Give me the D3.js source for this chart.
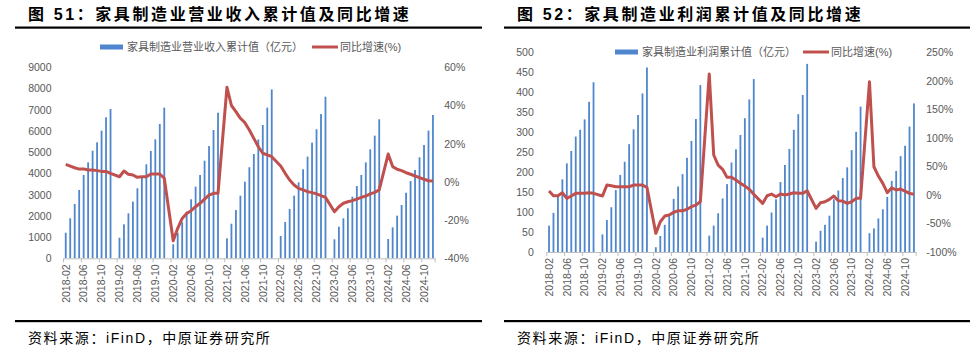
<!DOCTYPE html>
<html>
<head>
<meta charset="utf-8">
<script src="https://cdn.jsdelivr.net/npm/d3@7"></script>
<style>
  body { margin: 0; background: #fff; }
  svg { display: block; }
  text { font-family: "Liberation Sans", "Noto Sans CJK SC", sans-serif; }
</style>
</head>
<body>
<svg width="979" height="349"></svg>
<script>
// 月份类目：2018-02 至 2024-12，1月单独成类但无数据
const years = [2018, 2019, 2020, 2021, 2022, 2023, 2024];
const months = [];
years.forEach(y => {
  for (let m = 1; m <= 12; m++) {
    if (y === 2018 && m === 1) continue;
    months.push(`${y}-${String(m).padStart(2, "0")}`);
  }
});

// 营业收入累计值（亿元），1月为 null
const revenue = [
  1205, 1885, 2560, 3220, 3925, 4520, 5070, 5465, 6015, 6645, 7035,
  null, 970, 1600, 2120, 2670, 3300, 3850, 4430, 5055, 5605, 6330, 7100,
  null, 660, 1205, 1700, 2200, 2780, 3375, 3925, 4600, 5290, 6045, 6860,
  null, 940, 1630, 2275, 2950, 3610, 4290, 4915, 5600, 6280, 7100, 7960,
  null, 1050, 1710, 2325, 2950, 3580, 4195, 4790, 5450, 6080, 6800, 7615,
  null, 895, 1490, 1885, 2355, 2900, 3405, 3925, 4520, 5135, 5780, 6550,
  null, 910, 1460, 2010, 2510, 3090, 3640, 4160, 4760, 5340, 6015, 6755
];
// 营业收入同比增速（%）
const revenueYoY = [
  9.2, 8.3, 7.4, 6.7, 6.8, 6.2, 6.2, 5.9, 5.5, 5.5, 4.5,
  null, 2.7, 5.7, 4.0, 3.6, 2.4, 2.7, 2.7, 4.1, 4.1, 4.1, 1.9,
  null, -30.8, -24.3, -19.1, -16.5, -15.1, -13.0, -11.2, -9.0, -6.9, -6.0, -6.0,
  null, 49.5, 40.0, 36.8, 33.3, 31.0, 27.2, 22.8, 18.4, 15.0, 14.1, 13.2,
  null, 8.3, 4.5, 1.0, -1.6, -3.4, -4.2, -5.1, -5.6, -6.3, -7.2, -8.1,
  null, -15.6, -13.0, -11.2, -10.4, -9.8, -9.0, -8.1, -7.4, -6.3, -5.5, -4.2,
  null, 14.6, 8.0, 6.6, 5.9, 4.8, 4.0, 3.1, 2.2, 1.4, 0.6, 0.5
];

// 利润累计值（亿元）
const profit = [
  66, 98, 138, 182, 222, 253, 289, 306, 332, 376, 425,
  null, 44, 80, 112, 155, 193, 226, 270, 307, 343, 397, 462,
  null, 12, 40, 68, 90, 133, 164, 195, 236, 278, 333, 418,
  null, 41, 66, 97, 134, 170, 224, 257, 293, 335, 382, 433,
  null, 36, 66, 99, 132, 175, 218, 258, 306, 345, 393, 471,
  null, 26, 53, 68, 91, 132, 154, 185, 212, 255, 301, 364,
  null, 47, 59, 84, 107, 138, 178, 203, 240, 266, 314, 372
];
// 利润同比增速（%）
const profitYoY = [
  6.8, -1.4, -1.4, 3.9, -6.0, -1.9, 2.8, 2.8, 2.8, 3.9, 2.8,
  null, -1.9, 17.3, 16.1, 14.4, 14.4, 14.4, 14.4, 17.3, 17.3, 17.3, 13.3,
  null, -67.3, -47.0, -37.0, -35.2, -30.5, -27.7, -27.7, -25.2, -20.6, -17.7, -11.9,
  null, 211.9, 70.0, 52.4, 44.9, 30.8, 31.2, 26.1, 20.3, 15.6, 9.8, 1.2,
  null, -14.8, -1.4, 1.6, -3.1, 1.6, 0.0, 1.6, 3.9, 2.8, 2.8, 7.4,
  null, -23.5, -13.7, -11.9, -7.7, -1.9, -10.2, -10.8, -14.8, -11.9, -6.0, -6.0,
  null, 198.4, 49.4, 33.1, 20.3, 3.9, 12.6, 8.6, 10.3, 6.8, 2.8, 1.1
];

const revenueTicks = d3.range(0, 9001, 1000);
const revenuePctTicks = [-40, -20, 0, 20, 40, 60];
const profitTicks = d3.range(0, 501, 50);
const profitPctTicks = [-100, -50, 0, 50, 100, 150, 200, 250];

const BAR = "#4f86cd", LINE = "#c0504d", GREY = "#595959";
const svg = d3.select("svg");

function drawPanel(o) {
  const g = svg.append("g");

  // 标题与上下粗线
  g.append("text").attr("x", o.left + 13).attr("y", 20)
    .attr("font-size", 16).attr("font-weight", 700).attr("fill", "#000")
    .style("letter-spacing", "2.6px")
    .text(o.title);
  g.append("rect").attr("x", o.left).attr("y", 26.5).attr("width", o.right - o.left).attr("height", 2.2).attr("fill", "#000");
  g.append("rect").attr("x", o.left).attr("y", 320).attr("width", o.right - o.left).attr("height", 2.2).attr("fill", "#000");
  g.append("text").attr("x", o.left + 13).attr("y", 343)
    .attr("font-size", 14).attr("fill", "#000")
    .style("letter-spacing", "1.6px")
    .text("资料来源：iFinD，中原证券研究所");

  const x = d3.scaleBand().domain(months).range(o.xRange).padding(0);
  const y = d3.scaleLinear().domain(o.yDomain).range(o.yRange);
  const y2 = d3.scaleLinear().domain(o.y2Domain).range(o.yRange);
  const cx = d => x(d) + x.bandwidth() / 2;

  // 左轴
  g.append("g").attr("transform", `translate(${o.xRange[0]},0)`)
    .call(d3.axisLeft(y).tickValues(o.yTicks).tickSize(0).tickPadding(o.leftPad).tickFormat(d3.format("d")))
    .call(a => a.select(".domain").remove())
    .selectAll("text").attr("font-size", 10.5).attr("fill", GREY)
    .style("font-family", "Liberation Sans");

  // 右轴
  g.append("g").attr("transform", `translate(${o.xRange[1]},0)`)
    .call(d3.axisRight(y2).tickValues(o.y2Ticks).tickSize(0).tickPadding(o.rightPad).tickFormat(d => d + "%"))
    .call(a => a.select(".domain").remove())
    .selectAll("text").attr("font-size", 10.5).attr("fill", GREY)
    .style("font-family", "Liberation Sans");

  // 柱
  const data = months.map((m, i) => ({ m, v: o.bars[i], p: o.pct[i] }));
  g.append("g").selectAll("rect")
    .data(data.filter(d => d.v != null))
    .join("rect")
    .attr("x", d => cx(d.m) - 0.9)
    .attr("width", 1.8)
    .attr("y", d => y(d.v))
    .attr("height", d => y(0) - y(d.v))
    .attr("fill", BAR);

  // x 轴线、刻度与标签（每4个月）
  const base = o.yRange[0];
  g.append("line").attr("x1", o.xRange[0]).attr("x2", o.xRange[1])
    .attr("y1", base + 0.5).attr("y2", base + 0.5).attr("stroke", "#bfbfbf");
  const labelled = months.filter((m, i) => i % 4 === 0);
  g.append("g").selectAll("line")
    .data(labelled.concat(["end"]))
    .join("line")
    .attr("x1", d => d === "end" ? o.xRange[1] : x(d))
    .attr("x2", d => d === "end" ? o.xRange[1] : x(d))
    .attr("y1", base).attr("y2", base + 4)
    .attr("stroke", "#bfbfbf");
  g.append("g").selectAll("text")
    .data(labelled)
    .join("text")
    .attr("transform", d => `translate(${cx(d) + 3.8},${base + 6}) rotate(-90)`)
    .attr("text-anchor", "end")
    .attr("font-size", 10.5).attr("fill", GREY)
    .text(d => d);

  // 同比增速折线，跨过1月空值连接
  const line = d3.line().x(d => cx(d.m)).y(d => y2(d.p));
  g.append("path")
    .datum(data.filter(d => d.p != null))
    .attr("d", line)
    .attr("fill", "none").attr("stroke", LINE)
    .attr("stroke-width", 3).attr("stroke-linejoin", "round");

  // 图例
  const lg = g.append("g").attr("transform", `translate(0,${o.legendY})`);
  lg.append("rect").attr("x", o.legendX).attr("y", -2.5).attr("width", 23).attr("height", 5).attr("fill", BAR);
  lg.append("text").attr("x", o.legendX + 27).attr("y", 4).attr("font-size", 11).attr("fill", GREY).text(o.barName);
  lg.append("line").attr("x1", o.legendX2).attr("x2", o.legendX2 + 26).attr("y1", 0).attr("y2", 0)
    .attr("stroke", LINE).attr("stroke-width", 3);
  lg.append("text").attr("x", o.legendX2 + 28).attr("y", 4).attr("font-size", 11).attr("fill", GREY).text("同比增速(%)");
}

drawPanel({
  left: 15, right: 482,
  title: "图 51：家具制造业营业收入累计值及同比增速",
  xRange: [63.5, 435.2], yRange: [258.3, 67.3],
  yDomain: [0, 9000], y2Domain: [-40, 60],
  yTicks: revenueTicks, y2Ticks: revenuePctTicks,
  leftPad: 12, rightPad: 9,
  bars: revenue, pct: revenueYoY,
  barName: "家具制造业营业收入累计值（亿元）",
  legendY: 47, legendX: 100, legendX2: 312
});

drawPanel({
  left: 504, right: 970,
  title: "图 52：家具制造业利润累计值及同比增速",
  xRange: [546.8, 916.2], yRange: [252, 52.3],
  yDomain: [0, 500], y2Domain: [-100, 250],
  yTicks: profitTicks, y2Ticks: profitPctTicks,
  leftPad: 13, rightPad: 10,
  bars: profit, pct: profitYoY,
  barName: "家具制造业利润累计值（亿元）",
  legendY: 52, legendX: 615, legendX2: 803
});
</script>
</body>
</html>
